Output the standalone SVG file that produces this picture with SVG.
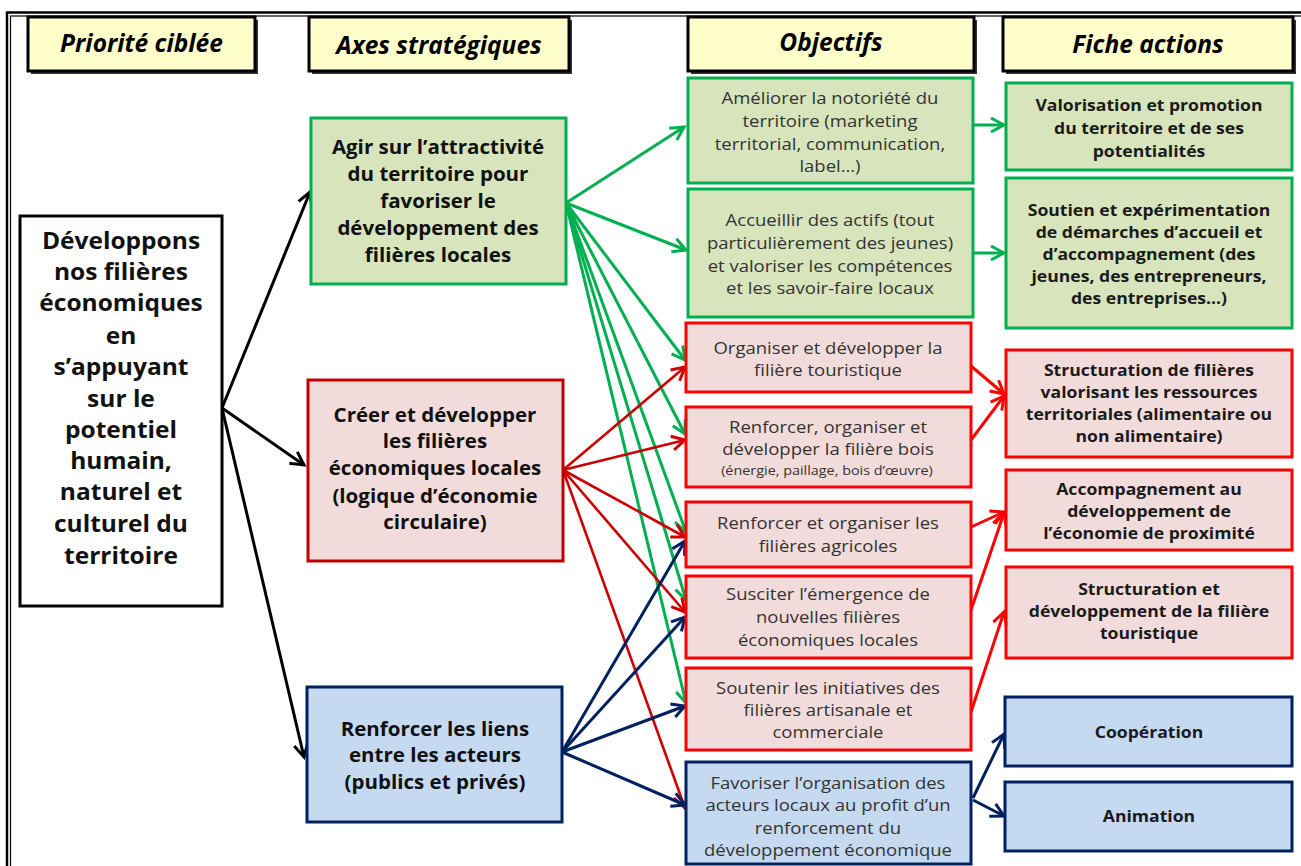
<svg xmlns="http://www.w3.org/2000/svg" width="1301" height="866" viewBox="0 0 1301 866">
<defs>
<style>
text{font-family:"Open Sans",Lato,"Liberation Sans",sans-serif;text-anchor:middle}
.hd{font-size:24.5px;font-weight:bold;font-style:italic;fill:#000}
.hbox{fill:#FFFFCC;stroke:#000;stroke-width:3}
.shadow{fill:#333}
.big{font-size:22.5px;font-weight:bold;fill:#111}
.ax{font-size:19px;font-weight:bold;fill:#111}
.ob{font-size:16.1px;fill:#333}
.obs{font-size:12.5px;fill:#333}
.fa{font-size:16px;font-weight:bold;fill:#1a1a1a}
.g{fill:#D7E4BC;stroke:#00B050;stroke-width:3}
.r{fill:#F2DCDB;stroke:#FF0000;stroke-width:3}
.rd{fill:#F2DCDB;stroke:#C00000;stroke-width:3}
.b{fill:#C5D9F1;stroke:#002060;stroke-width:3}
.k{fill:#fff;stroke:#000;stroke-width:3}
.cg{stroke:#00B050;stroke-width:3;fill:none;marker-end:url(#mg)}
.cr{stroke:#CC0000;stroke-width:2.6;fill:none;marker-end:url(#mr)}
.cr2{stroke:#FF0000;stroke-width:3;fill:none;marker-end:url(#mr2)}
.cb{stroke:#002060;stroke-width:3;fill:none;marker-end:url(#mb)}
.ck{stroke:#000;stroke-width:3;fill:none;marker-end:url(#mk)}
</style>
<marker id="mg" markerUnits="userSpaceOnUse" markerWidth="20" markerHeight="20" viewBox="-16 -10 20 20" refX="0" refY="0" orient="auto"><path d="M-13,-7 L0,0 L-13,7" fill="none" stroke="#00B050" stroke-width="3"/></marker>
<marker id="mr" markerUnits="userSpaceOnUse" markerWidth="20" markerHeight="20" viewBox="-16 -10 20 20" refX="0" refY="0" orient="auto"><path d="M-13,-7 L0,0 L-13,7" fill="none" stroke="#CC0000" stroke-width="3"/></marker>
<marker id="mr2" markerUnits="userSpaceOnUse" markerWidth="20" markerHeight="20" viewBox="-16 -10 20 20" refX="0" refY="0" orient="auto"><path d="M-13,-7 L0,0 L-13,7" fill="none" stroke="#FF0000" stroke-width="3"/></marker>
<marker id="mb" markerUnits="userSpaceOnUse" markerWidth="20" markerHeight="20" viewBox="-16 -10 20 20" refX="0" refY="0" orient="auto"><path d="M-13,-7 L0,0 L-13,7" fill="none" stroke="#002060" stroke-width="3"/></marker>
<marker id="mk" markerUnits="userSpaceOnUse" markerWidth="20" markerHeight="20" viewBox="-16 -10 20 20" refX="0" refY="0" orient="auto"><path d="M-13,-7 L0,0 L-13,7" fill="none" stroke="#000" stroke-width="3"/></marker>
</defs>
<rect width="1301" height="866" fill="#fff"/>
<g id="frame" fill="none" stroke="#000">
<rect x="7" y="12.5" width="1310" height="870" stroke-width="2.5"/>
<rect x="10.5" y="16" width="1310" height="870" stroke-width="1.2"/>
</g>

<g id="headers">
<g id="h1"><rect class="shadow" x="31" y="20" width="227" height="54"/><rect class="hbox" x="28" y="17" width="227" height="54"/><text class="hd" x="141.5" y="52">Priorité ciblée</text></g>
<g id="h2"><rect class="shadow" x="312" y="20" width="260" height="54"/><rect class="hbox" x="309" y="17" width="260" height="54"/><text class="hd" x="439" y="54">Axes stratégiques</text></g>
<g id="h3"><rect class="shadow" x="691" y="20" width="286" height="54"/><rect class="hbox" x="688" y="17" width="286" height="54"/><text class="hd" x="831" y="51">Objectifs</text></g>
<g id="h4"><rect class="shadow" x="1006" y="20" width="290" height="54"/><rect class="hbox" x="1003" y="17" width="290" height="54"/><text class="hd" x="1148" y="53">Fiche actions</text></g>
</g>

<g id="connectors">
<line class="ck" x1="222" y1="408" x2="310" y2="192"/>
<line class="ck" x1="222" y1="408" x2="304" y2="465"/>
<line class="ck" x1="222" y1="408" x2="304" y2="757"/>
<line class="cg" x1="566" y1="203" x2="684" y2="127"/>
<line class="cg" x1="566" y1="203" x2="686" y2="250"/>
<line class="cg" x1="566" y1="203" x2="685" y2="360"/>
<line class="cg" x1="566" y1="203" x2="685" y2="434"/>
<line class="cg" x1="566" y1="203" x2="686" y2="532"/>
<line class="cg" x1="566" y1="203" x2="686" y2="600"/>
<line class="cg" x1="566" y1="203" x2="686" y2="703"/>
<line class="cr" x1="563" y1="470" x2="685" y2="367"/>
<line class="cr" x1="563" y1="470" x2="685" y2="440"/>
<line class="cr" x1="563" y1="470" x2="685" y2="537"/>
<line class="cr" x1="563" y1="470" x2="685" y2="612"/>
<line class="cr" x1="563" y1="470" x2="685" y2="808"/>
<line class="cb" x1="562" y1="752" x2="685" y2="541"/>
<line class="cb" x1="562" y1="752" x2="685" y2="617"/>
<line class="cb" x1="562" y1="752" x2="685" y2="706"/>
<line class="cb" x1="562" y1="752" x2="685" y2="805"/>
<line class="cg" x1="973" y1="125" x2="1004" y2="125"/>
<line class="cg" x1="973" y1="253" x2="1004" y2="253"/>
<line class="cr2" x1="971" y1="366" x2="1004" y2="394"/>
<line class="cr2" x1="971" y1="440" x2="1004" y2="396"/>
<line class="cr2" x1="971" y1="527" x2="1004" y2="512"/>
<line class="cr2" x1="971" y1="610" x2="1004" y2="513"/>
<line class="cr2" x1="971" y1="712" x2="1004" y2="612"/>
<line class="cb" x1="973" y1="798" x2="1004" y2="734"/>
<line class="cb" x1="973" y1="800" x2="1004" y2="816"/>
</g>

<g id="prio"><rect class="k" x="20" y="216" width="202" height="390"/>
<text class="big" transform="matrix(1.09,0,0,1,-10.89,0)"><tspan x="121" y="249">Développons</tspan><tspan x="121" y="280">nos filières</tspan><tspan x="121" y="311">économiques</tspan><tspan x="121" y="344">en</tspan><tspan x="121" y="375">s’appuyant</tspan><tspan x="121" y="407">sur le</tspan><tspan x="121" y="438">potentiel</tspan><tspan x="121" y="469">humain,</tspan><tspan x="121" y="500">naturel et</tspan><tspan x="121" y="532">culturel du</tspan><tspan x="121" y="564">territoire</tspan></text></g>

<g id="axe1"><rect class="g" x="311" y="118" width="255" height="166"/>
<text class="ax" transform="matrix(1.08,0,0,1,-35.04,0)"><tspan x="438" y="154">Agir sur l’attractivité</tspan><tspan x="438" y="181">du territoire pour</tspan><tspan x="438" y="208">favoriser le</tspan><tspan x="438" y="235">développement des</tspan><tspan x="438" y="262">filières locales</tspan></text></g>
<g id="axe2"><rect class="rd" x="308" y="380" width="255" height="181"/>
<text class="ax" transform="matrix(1.08,0,0,1,-34.8,0)"><tspan x="435" y="422">Créer et développer</tspan><tspan x="435" y="448">les filières</tspan><tspan x="435" y="475">économiques locales</tspan><tspan x="435" y="503">(logique d’économie</tspan><tspan x="435" y="529">circulaire)</tspan></text></g>
<g id="axe3"><rect class="b" x="307" y="687" width="255" height="135"/>
<text class="ax" transform="matrix(1.08,0,0,1,-34.8,0)"><tspan x="435" y="736">Renforcer les liens</tspan><tspan x="435" y="762">entre les acteurs</tspan><tspan x="435" y="789">(publics et privés)</tspan></text></g>

<g id="obj1"><rect class="g" x="688" y="78" width="285" height="105"/>
<text class="ob" transform="matrix(1.15,0,0,1,-124.5,0)"><tspan x="830" y="104">Améliorer la notoriété du</tspan><tspan x="830" y="127">territoire (marketing</tspan><tspan x="830" y="150">territorial, communication,</tspan><tspan x="830" y="172">label…)</tspan></text></g>
<g id="obj2"><rect class="g" x="688" y="189" width="285" height="128"/>
<text class="ob" transform="matrix(1.15,0,0,1,-124.5,0)"><tspan x="830" y="226">Accueillir des actifs (tout</tspan><tspan x="830" y="249">particulièrement des jeunes)</tspan><tspan x="830" y="272">et valoriser les compétences</tspan><tspan x="830" y="294">et les savoir-faire locaux</tspan></text></g>
<g id="obj3"><rect class="r" x="686" y="323" width="285" height="69"/>
<text class="ob" transform="matrix(1.15,0,0,1,-124.2,0)"><tspan x="828" y="354">Organiser et développer la</tspan><tspan x="828" y="376">filière touristique</tspan></text></g>
<g id="obj4"><rect class="r" x="686" y="407" width="285" height="80"/>
<text class="ob" transform="matrix(1.15,0,0,1,-124.2,0)"><tspan x="828" y="433">Renforcer, organiser et</tspan><tspan x="828" y="455">développer la filière bois</tspan></text><text class="obs" transform="matrix(1.15,0,0,1,-124.05,0)" x="827" y="475">(énergie, paillage, bois d’œuvre)</text></g>
<g id="obj5"><rect class="r" x="686" y="502" width="285" height="65"/>
<text class="ob" transform="matrix(1.15,0,0,1,-124.2,0)"><tspan x="828" y="529">Renforcer et organiser les</tspan><tspan x="828" y="552">filières agricoles</tspan></text></g>
<g id="obj6"><rect class="r" x="686" y="576" width="285" height="82"/>
<text class="ob" transform="matrix(1.15,0,0,1,-124.2,0)"><tspan x="828" y="600">Susciter l’émergence de</tspan><tspan x="828" y="623">nouvelles filières</tspan><tspan x="828" y="646">économiques locales</tspan></text></g>
<g id="obj7"><rect class="r" x="686" y="668" width="285" height="82"/>
<text class="ob" transform="matrix(1.15,0,0,1,-124.2,0)"><tspan x="828" y="694">Soutenir les initiatives des</tspan><tspan x="828" y="716">filières artisanale et</tspan><tspan x="828" y="738">commerciale</tspan></text></g>
<g id="obj8"><rect class="b" x="686" y="762" width="285" height="102"/>
<text class="ob" transform="matrix(1.15,0,0,1,-124.2,0)"><tspan x="828" y="789">Favoriser l’organisation des</tspan><tspan x="828" y="811">acteurs locaux au profit d’un</tspan><tspan x="828" y="834">renforcement du</tspan><tspan x="828" y="856">développement économique</tspan></text></g>

<g id="fa1"><rect class="g" x="1006" y="83" width="286" height="87"/>
<text class="fa" transform="matrix(1.1,0,0,1,-114.9,0)"><tspan x="1149" y="111">Valorisation et promotion</tspan><tspan x="1149" y="134">du territoire et de ses</tspan><tspan x="1149" y="157">potentialités</tspan></text></g>
<g id="fa2"><rect class="g" x="1006" y="178" width="286" height="150"/>
<text class="fa" transform="matrix(1.1,0,0,1,-114.9,0)"><tspan x="1149" y="216">Soutien et expérimentation</tspan><tspan x="1149" y="238">de démarches d’accueil et</tspan><tspan x="1149" y="260">d’accompagnement (des</tspan><tspan x="1149" y="282">jeunes, des entrepreneurs,</tspan><tspan x="1149" y="304">des entreprises…)</tspan></text></g>
<g id="fa3"><rect class="r" x="1006" y="350" width="286" height="107"/>
<text class="fa" transform="matrix(1.1,0,0,1,-114.9,0)"><tspan x="1149" y="376">Structuration de filières</tspan><tspan x="1149" y="398">valorisant les ressources</tspan><tspan x="1149" y="420">territoriales (alimentaire ou</tspan><tspan x="1149" y="442">non alimentaire)</tspan></text></g>
<g id="fa4"><rect class="r" x="1006" y="470" width="286" height="80"/>
<text class="fa" transform="matrix(1.1,0,0,1,-114.9,0)"><tspan x="1149" y="495">Accompagnement au</tspan><tspan x="1149" y="517">développement de</tspan><tspan x="1149" y="539">l’économie de proximité</tspan></text></g>
<g id="fa5"><rect class="r" x="1006" y="567" width="286" height="91"/>
<text class="fa" transform="matrix(1.1,0,0,1,-114.9,0)"><tspan x="1149" y="595">Structuration et</tspan><tspan x="1149" y="617">développement de la filière</tspan><tspan x="1149" y="639">touristique</tspan></text></g>
<g id="fa6"><rect class="b" x="1005" y="697" width="287" height="69"/>
<text class="fa" transform="matrix(1.1,0,0,1,-114.9,0)" x="1149" y="738">Coopération</text></g>
<g id="fa7"><rect class="b" x="1005" y="782" width="287" height="69"/>
<text class="fa" transform="matrix(1.1,0,0,1,-114.9,0)" x="1149" y="822">Animation</text></g>
</svg>
